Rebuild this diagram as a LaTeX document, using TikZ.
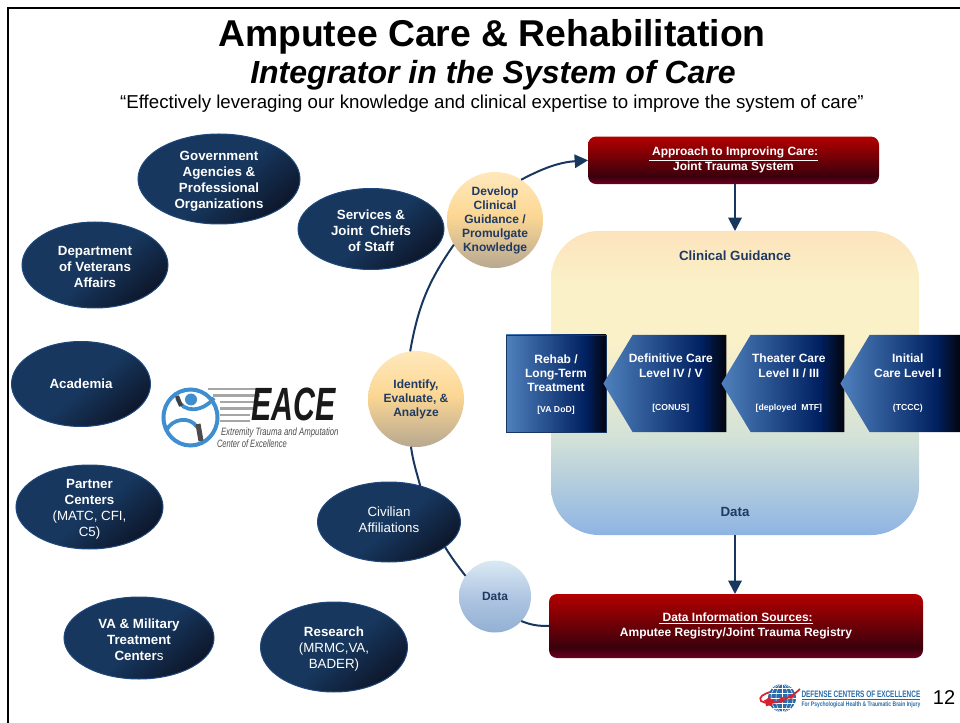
\documentclass[tikz,border=0pt]{standalone}
\usepackage{fontspec}
\setmainfont{Liberation Sans}
\usetikzlibrary{shapes.geometric,shapes.symbols,arrows.meta}
\definecolor{navy}{HTML}{17375E}
\definecolor{navyedge}{HTML}{1F497D}
\definecolor{navydark}{HTML}{0B1020}
\definecolor{inktext}{HTML}{1F3A63}
\definecolor{steel}{HTML}{4F81BD}
\definecolor{midblue}{HTML}{002060}
\definecolor{nearblack}{HTML}{04040C}
\definecolor{redtop}{HTML}{B30000}
\definecolor{redlow}{HTML}{3A000C}
\definecolor{redend}{HTML}{6E0020}
\definecolor{sandtop}{HTML}{FFE8BC}
\definecolor{sandmid}{HTML}{FCD793}
\definecolor{sandend}{HTML}{B7A891}
\definecolor{icetop}{HTML}{DAEAF3}
\definecolor{icemid}{HTML}{B0C6E2}
\definecolor{iceend}{HTML}{92AFD3}
\definecolor{paneltop}{HTML}{FCE3BC}
\definecolor{panelcream}{HTML}{FBF1C8}
\definecolor{panelsage}{HTML}{D3E2D8}
\definecolor{panelend}{HTML}{8EB4E3}
\definecolor{eaceblue}{HTML}{3E8ED0}
\definecolor{dcoeblue}{HTML}{2A6CA8}
\definecolor{dcoered}{HTML}{D8202F}
\pgfdeclarehorizontalshading{navyfade}{100bp}{color(0bp)=(navy); color(52bp)=(navy); color(80bp)=(navydark); color(100bp)=(navydark)}
\pgfdeclarehorizontalshading{bluefade}{100bp}{color(0bp)=(steel); color(25bp)=(steel); color(65bp)=(midblue); color(75bp)=(nearblack); color(100bp)=(nearblack)}
\pgfdeclareverticalshading{redfade}{100bp}{color(0bp)=(redend); color(25bp)=(redend); color(33bp)=(redlow); color(75bp)=(redtop); color(100bp)=(redtop)}
\pgfdeclareverticalshading{sandfade}{100bp}{color(0bp)=(sandend); color(25bp)=(sandend); color(52bp)=(sandmid); color(75bp)=(sandtop); color(100bp)=(sandtop)}
\pgfdeclareverticalshading{icefade}{100bp}{color(0bp)=(iceend); color(25bp)=(iceend); color(50bp)=(icemid); color(75bp)=(icetop); color(100bp)=(icetop)}
\pgfdeclareverticalshading{panelfade}{100bp}{color(0bp)=(panelend); color(25bp)=(panelend); color(41bp)=(panelsage); color(57bp)=(panelcream); color(66bp)=(panelcream); color(75bp)=(paneltop); color(100bp)=(paneltop)}
\newcommand{\pointertext}[3][13pt]{\kern-#1\begin{tabular}{@{}c@{}}#2\\[13.5pt]{\fontsize{6.5}{8}\selectfont #3}\end{tabular}}
\begin{document}
\begin{tikzpicture}[
            x=.75pt, y=-.75pt,
            every node/.style={align=center, inner sep=0pt, outer sep=0pt},
            oval/.style={ellipse, inner sep=-6pt, shade, shading=navyfade, shading angle=-50, draw=navyedge, line width=.75pt, text=white,
                font=\fontsize{10}{12}\selectfont},
            orb/.style={circle, shade, text=inktext, font=\fontsize{9}{10.5}\selectfont\bfseries},
            banner/.style={rectangle, rounded corners=6pt, shade, shading=redfade, text=white, font=\fontsize{9}{11.2}\selectfont\bfseries},
            pointer/.style={signal, signal to=west, signal pointer angle=118, minimum height=72.75pt, shade, shading=bluefade,
                text=white, font=\fontsize{9}{11.25}\selectfont\bfseries},
            link/.style={draw=navy, line width=1.5pt},
            linkhead/.style={link, -{Triangle[length=10pt,width=10pt]}}]
        \useasboundingbox (0,0) rectangle (960,723);
        \draw [line width=2pt, line join=miter] (8,723) -- (8,8) -- (960,8);

        \node [anchor=base, font=\fontsize{28}{30}\selectfont\bfseries] (title) at (492,46.5) {Amputee Care \& Rehabilitation};
        \node [anchor=base, font=\fontsize{24}{26}\selectfont\bfseries\itshape] (subtitle) at (493,83.5) {Integrator in the System of Care};
        \node [anchor=base, font=\fontsize{14}{16}\selectfont] (quote) at (492,108.5) {“Effectively leveraging our knowledge and clinical expertise to improve the system of care”};

        \node [oval, minimum width=121.5pt, minimum height=67.5pt] (gov) at (219,179) {\rule{0pt}{11pt}\bfseries Government\\\bfseries Agencies \&\\\bfseries Professional\\\bfseries Organizations};
        \node [oval, minimum width=109.5pt, minimum height=60.75pt] (services) at (371,229) {\rule{0pt}{10pt}\bfseries Services \&\\\bfseries Joint~ Chiefs\\\bfseries of Staff};
        \node [oval, minimum width=109.5pt, minimum height=64.5pt] (veterans) at (95,265) {\rule{0pt}{10pt}\bfseries Department\\\bfseries of Veterans\\\bfseries Affairs};
        \node [oval, minimum width=104.25pt, minimum height=63.75pt] (academia) at (81,384) {\bfseries Academia};
        \node [oval, minimum width=110.25pt, minimum height=63pt] (partner) at (89.5,507) {\rule{0pt}{10.5pt}\bfseries Partner\\\bfseries Centers\\(MATC, CFI,\\C5)};
        \node [oval, minimum width=107.25pt, minimum height=60pt] (civilian) at (389,522) {\raisebox{10pt}{\begin{tabular}{@{}c@{}}Civilian\\Affiliations\end{tabular}}};
        \node [oval, minimum width=112.5pt, minimum height=61.5pt] (military) at (139,638) {\rule{0pt}{10pt}\bfseries VA \& Military\\\bfseries Treatment\\{\bfseries Center}s};
        \node [oval, minimum width=110.25pt, minimum height=67.5pt] (research) at (334,647) {\rule{0pt}{10.5pt}\bfseries Research\\(MRMC,VA,\\BADER)};

        \node [rectangle, shade, shading=panelfade, rounded corners=36pt, minimum width=276pt, minimum height=228pt] (panel) at (735,383) {};
        \node [font=\fontsize{10}{12}\selectfont\bfseries, text=inktext] (guidancelabel) at (735,255.5) {Clinical Guidance};
        \node [font=\fontsize{10}{12}\selectfont\bfseries, text=inktext] (datalabel) at (735,511.5) {Data};

        \node [rectangle, draw=navy, line width=.6pt, minimum width=75pt, minimum height=72.75pt, shade, shading=bluefade, text=white,
            font=\fontsize{9}{10.5}\selectfont\bfseries] (rehab) at (556,383.5) {\rule{0pt}{8pt}Rehab /\\Long-Term\\Treatment\\[5pt]{\fontsize{6.5}{8}\selectfont [VA DoD]}};
        \node [pointer, minimum width=92.25pt] (definitive) at (679.5,383.5) {\pointertext{Definitive Care\\Level IV / V}{[CONUS]}};
        \node [pointer, minimum width=92.25pt] (theater) at (797.5,383.5) {\pointertext{Theater Care\\Level II / III}{[deployed~ MTF]}};
        \node [pointer, minimum width=90pt] (initial) at (915,383.5) {\pointertext[10.8pt]{Initial\\Care Level I}{(TCCC)}};

        \node [banner, minimum width=218.25pt, minimum height=35.6pt] (approach) at (733.5,160.3) {\underline{~Approach to Improving Care:}\\Joint Trauma System};
        \node [banner, minimum width=280.5pt, minimum height=48pt] (sources) at (736,626) {\underline{~Data Information Sources:}\\Amputee Registry/Joint Trauma Registry};

        \node [orb, shading=sandfade, minimum size=72pt] (develop) at (495,220) {Develop\\Clinical\\Guidance /\\Promulgate\\Knowledge};
        \node [orb, shading=sandfade, minimum size=72pt] (identify) at (416,399) {Identify,\\Evaluate, \&\\Analyze};
        \node [orb, shading=icefade, minimum size=54pt] (datapoint) at (495,596.5) {Data};

        \draw [link] (identify.97) to [out=80, in=235] (develop.211);
        \draw [linkhead] (develop.57) to [out=28, in=184] (approach.west);
        \draw [link] (identify.264) to [out=-82, in=105] (civilian.49);
        \draw [link] (civilian.-24) to [out=-58, in=128] (datapoint.145);
        \draw [link] (datapoint.-43) to [out=-22, in=180] (sources.west);
        \draw [linkhead] (approach.south -| panel.north) -- (panel.north);
        \draw [linkhead] (panel.south) -- (panel.south |- sources.north);

        \draw [eaceblue, line width=3pt] (190.5,417.5) circle [x radius=27, y radius=28];
        \fill [eaceblue] (191,399.5) circle (6);
        \draw [eaceblue, line width=2.8pt] (177,398) .. controls (183,414) and (203,412) .. (214,398);
        \draw [black!75, line width=3pt] (177,396) -- (181,406);
        \draw [eaceblue, line width=2.8pt] (166,431) .. controls (172,418) and (190,416) .. (197,427);
        \draw [black!70, line width=3.8pt] (198,424) -- (201,441);
        \foreach \ypos/\xstart/\xend in {389/208/260, 395.5/213/260, 402/220/256, 408.5/220/253, 415/220/250, 421/220/250}
            \draw [black!35, line width=2pt] (\xstart,\ypos) -- (\xend,\ypos);
        \node [anchor=west, xscale=.65, font=\fontsize{35}{36}\selectfont\bfseries\itshape, text=black!90] (eacemark) at (251,404.5) {EACE};
        \node [anchor=west, xscale=.73, font=\fontsize{8}{9}\selectfont\itshape, text=black!70] (eacelineA) at (221,432.5) {Extremity Trauma and Amputation};
        \node [anchor=west, xscale=.71, font=\fontsize{8}{9}\selectfont\itshape, text=black!70] (eacelineB) at (217,444) {Center of Excellence};

        \begin{scope}
            \clip (782,698) circle (14);
            \fill [dcoeblue] (782,698) circle (14);
            \foreach \ypos in {688,693,698,703,708}
                \draw [white, line width=.35pt] (768,\ypos) -- (796,\ypos);
            \draw [white, line width=.35pt] (782,684) -- (782,712);
            \draw [white, line width=.35pt] (782,698) circle [x radius=6, y radius=14];
            \draw [white, line width=.35pt] (782,698) circle [x radius=11, y radius=14];
        \end{scope}
        \draw [dcoered, line width=1.3pt] (800,689) .. controls (790,699) and (770,707) .. (761,701) .. controls (758,697) and (764,694) .. (770,692);
        \node [star, star points=5, fill=dcoered, minimum size=8pt] (dcoestarA) at (769,702) {};
        \node [star, star points=5, fill=dcoered, minimum size=5pt] (dcoestarB) at (782,700) {};
        \node [star, star points=5, fill=dcoered, minimum size=3.5pt] (dcoestarC) at (791,697) {};
        \node [anchor=west, xscale=.69, font=\fontsize{7}{8}\selectfont\bfseries, text=dcoeblue] (dcoelineA) at (801.5,694) {DEFENSE CENTERS OF EXCELLENCE};
        \draw [dcoered, line width=.7pt] (801.5,699.5) -- (920,699.5);
        \node [anchor=west, xscale=.75, font=\fontsize{5}{6}\selectfont\bfseries, text=dcoeblue] (dcoelineB) at (801.5,704.5) {For Psychological Health \& Traumatic Brain Injury};
        \node [anchor=base, font=\fontsize{15}{16}\selectfont] (pagenumber) at (944,704) {12};
    \end{tikzpicture}
\end{document}
